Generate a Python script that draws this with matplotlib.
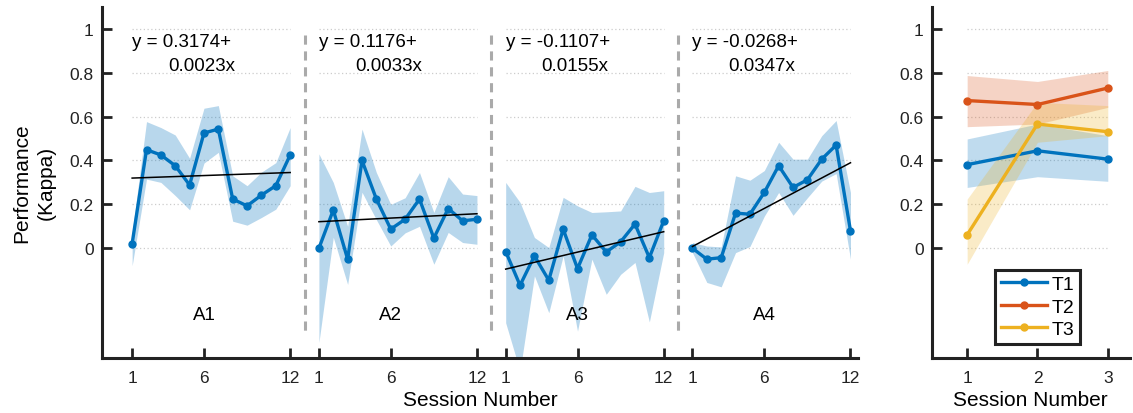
import matplotlib.pyplot as plt
import numpy as np

plt.rcParams['font.family'] = ['Liberation Sans', 'DejaVu Sans']

# ---- data ----
sessions = np.arange(1, 13)
panel_names = ['A1', 'A2', 'A3', 'A4']
fit_a = [0.3174, 0.1176, -0.1107, -0.0268]
fit_b = [0.0023, 0.0033, 0.0155, 0.0347]

a1_mean = [0.021, 0.449, 0.425, 0.376, 0.288, 0.525, 0.543, 0.224, 0.193, 0.242, 0.285, 0.425]
a1_up = [0.07, 0.577, 0.55, 0.516, 0.41, 0.638, 0.65, 0.33, 0.285, 0.347, 0.39, 0.55]
a1_lo = [-0.08, 0.315, 0.30, 0.24, 0.175, 0.388, 0.437, 0.123, 0.105, 0.14, 0.178, 0.285]

a2_mean = [0.0, 0.174, -0.05, 0.40, 0.224, 0.087, 0.132, 0.224, 0.046, 0.181, 0.125, 0.132]
a2_up = [0.43, 0.30, 0.10, 0.543, 0.345, 0.20, 0.23, 0.345, 0.163, 0.326, 0.247, 0.24]
a2_lo = [-0.43, 0.05, -0.165, 0.255, 0.13, 0.01, 0.07, 0.10, -0.073, 0.072, 0.026, 0.018]

a3_mean = [-0.015, -0.169, -0.035, -0.146, 0.087, -0.093, 0.061, -0.017, 0.029, 0.11, -0.043, 0.125]
a3_up = [0.30, 0.209, 0.049, 0.003, 0.232, 0.193, 0.163, 0.166, 0.17, 0.282, 0.254, 0.262]
a3_lo = [-0.34, -0.56, -0.126, -0.294, -0.035, -0.378, -0.05, -0.21, -0.119, -0.065, -0.336, -0.02]

a4_mean = [0.0, -0.05, -0.043, 0.16, 0.155, 0.254, 0.376, 0.277, 0.312, 0.406, 0.47, 0.079]
a4_up = [0.026, 0.01, 0.006, 0.33, 0.31, 0.354, 0.483, 0.406, 0.406, 0.513, 0.582, 0.254]
a4_lo = [-0.02, -0.156, -0.176, -0.02, 0.008, 0.146, 0.254, 0.15, 0.23, 0.306, 0.34, -0.05]

means = [a1_mean, a2_mean, a3_mean, a4_mean]
ups = [a1_up, a2_up, a3_up, a4_up]
los = [a1_lo, a2_lo, a3_lo, a4_lo]

t_sessions = [1, 2, 3]
t_names = ['T1', 'T2', 'T3']
t1_mean = [0.381, 0.444, 0.406]
t1_up = [0.498, 0.566, 0.513]
t1_lo = [0.277, 0.326, 0.305]
t2_mean = [0.673, 0.655, 0.73]
t2_up = [0.787, 0.76, 0.81]
t2_lo = [0.554, 0.566, 0.642]
t3_mean = [0.061, 0.566, 0.531]
t3_up = [0.224, 0.665, 0.65]
t3_lo = [-0.073, 0.483, 0.513]

blue = '#0072BD'
t_colors = ['#0072BD', '#D95319', '#EDB120']
yticks = [0, 0.2, 0.4, 0.6, 0.8, 1]
yticklabels = ['0', '0.2', '0.4', '0.6', '0.8', '1']

fig = plt.figure(figsize=(11.33, 4.14), dpi=100)
ax = fig.add_axes([0.090, 0.133, 0.667, 0.848])
ax2 = fig.add_axes([0.8226, 0.133, 0.1744, 0.848])


def style(a):
    for s in ['top', 'right']:
        a.spines[s].set_visible(False)
    for s in ['left', 'bottom']:
        a.spines[s].set_linewidth(2.2)
        a.spines[s].set_color('#222222')
    a.tick_params(direction='in', length=7, width=2, labelsize=12.5, colors='#222222', pad=6)
    a.tick_params(axis='x', pad=9)
    a.set_ylim(-0.5, 1.1)
    a.set_yticks(yticks)
    a.set_yticklabels(yticklabels)


style(ax)
style(ax2)

# left: four panels on one axis, offset by 13 sessions
xt = []
for i in range(4):
    off = i * 13
    x = sessions + off
    for yv in yticks:
        ax.plot([x[0], x[-1]], [yv, yv], ls=(0, (1, 2)), color='#cccccc', lw=0.9, zorder=0)
    ax.fill_between(x, los[i], ups[i], color=blue, alpha=0.28, lw=0, zorder=1)
    ax.plot(x, means[i], '-o', color=blue, lw=2.4, ms=5, zorder=3)
    fit = fit_a[i] + fit_b[i] * sessions
    ax.plot(x, fit, color='black', lw=1.1, zorder=4)
    ax.text(off + 1, 0.94, 'y = %.4f+' % fit_a[i], fontsize=13.5, va='center', ha='left')
    ax.text(off + 3.5, 0.835, '%.4fx' % fit_b[i], fontsize=13.5, va='center', ha='left')
    ax.text(off + 6, -0.30, panel_names[i], fontsize=13.5, va='center', ha='center')
    if i > 0:
        ax.plot([off, off], [0.97, -0.4], ls=(0, (3, 2.2)), color='#aaaaaa', lw=2.2, zorder=2)
    xt += [1 + off, 6 + off, 12 + off]

ax.set_xlim(-1.1, 51.5)
ax.set_xticks(xt)
ax.set_xticklabels(['1', '6', '12'] * 4)
ax.set_xlabel('Session Number', fontsize=15, labelpad=3)
ax.set_ylabel('Performance\n(Kappa)', fontsize=15, labelpad=10, linespacing=1.35)

# right: three tasks
t_means = [t1_mean, t2_mean, t3_mean]
t_ups = [t1_up, t2_up, t3_up]
t_los = [t1_lo, t2_lo, t3_lo]
for yv in yticks:
    ax2.plot([1, 3], [yv, yv], ls=(0, (1, 2)), color='#cccccc', lw=0.9, zorder=0)
for i in range(3):
    ax2.fill_between(t_sessions, t_los[i], t_ups[i], color=t_colors[i], alpha=0.25, lw=0, zorder=1)
for i in range(3):
    ax2.plot(t_sessions, t_means[i], '-o', color=t_colors[i], lw=2.4, ms=5, zorder=3, label=t_names[i])

ax2.set_xlim(0.5, 3.31)
ax2.set_xticks(t_sessions)
ax2.set_xlabel('Session Number', fontsize=15, labelpad=3)
leg = ax2.legend(loc='lower left', bbox_to_anchor=(0.318, 0.04), fontsize=14, fancybox=False,
                 edgecolor='#222222', framealpha=1, handlelength=2.4, borderpad=0.3,
                 labelspacing=0.25, handletextpad=0.2, borderaxespad=0)
leg.get_frame().set_linewidth(2.2)

fig.savefig('out.png', dpi=100)
